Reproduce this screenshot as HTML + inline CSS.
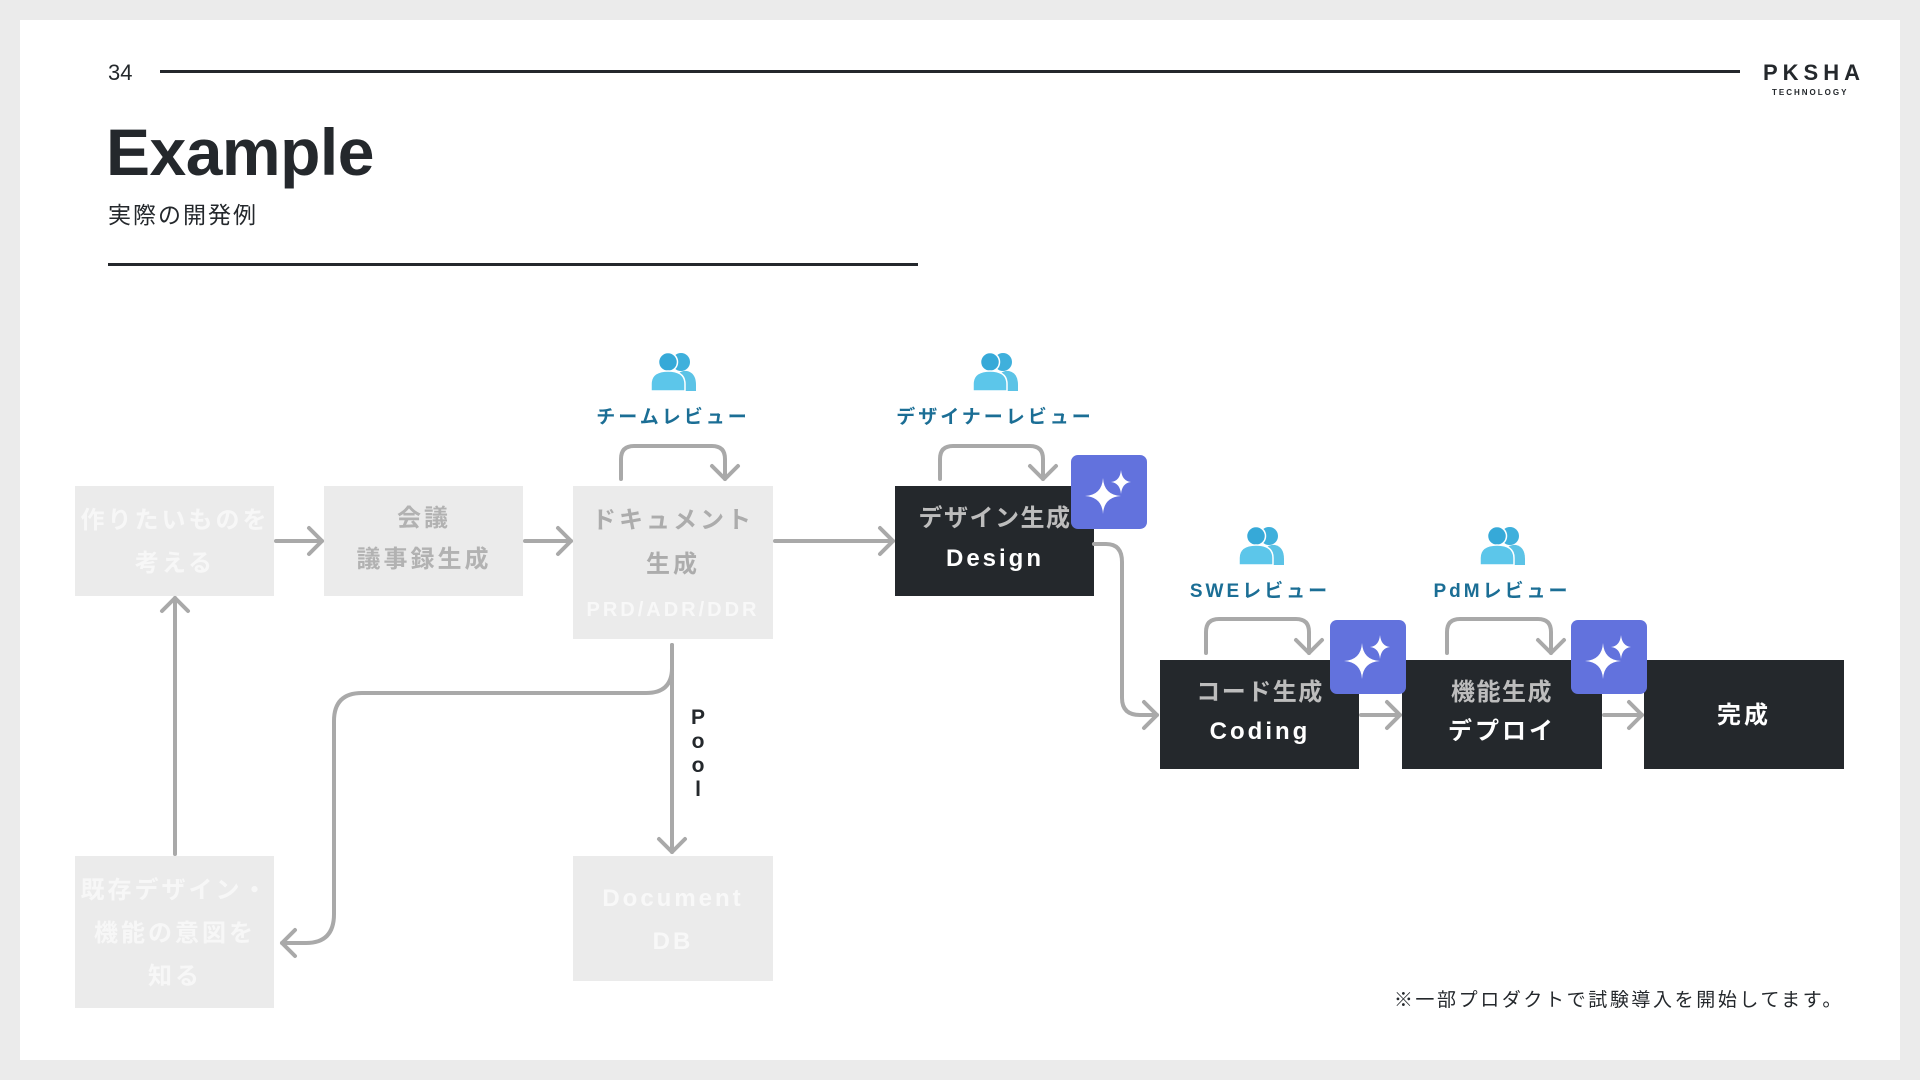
<!DOCTYPE html>
<html><head><meta charset="utf-8"><style>
html,body{margin:0;padding:0;background:#ebebeb;}
svg{display:block}
text{font-family:"Liberation Sans","Noto Sans CJK JP",sans-serif;}
</style></head><body>
<svg width="1920" height="1080" viewBox="0 0 1920 1080" xmlns="http://www.w3.org/2000/svg">
<defs>
<g id="ppl">
  <circle cx="8" cy="-9" r="9" fill="#3fb0dc"/>
  <path d="M3,20 V12 Q3,-1 14,0 Q23,2 23,14 V20 Z" fill="#5cc3e6"/>
  <circle cx="-5" cy="-9" r="9.5" fill="#36a9d8" stroke="#fff" stroke-width="1.5"/>
  <path d="M-22,20 V13 Q-22,0 -5,0 Q12,0 12,13 V20 Z" fill="#5cc6ea" stroke="#fff" stroke-width="1.5"/>
</g>
<g id="spark">
  <rect x="-38" y="-37" width="76" height="74" rx="7" fill="#6272dd"/>
  <path d="M-6,-20 Q-5,-3 12,-2 Q-5,-1 -6,16 Q-7,-1 -24,-2 Q-7,-3 -6,-20 Z" fill="#fff" transform="translate(0,6)"/>
  <path d="M10,-26 Q11,-15 20,-14 Q11,-13 10,-2 Q9,-13 0,-14 Q9,-15 10,-26 Z" fill="#fff" transform="translate(2,4)"/>
</g>
</defs>
<rect x="0" y="0" width="1920" height="1080" fill="#ebebeb"/>
<rect x="20" y="20" width="1880" height="1040" fill="#ffffff"/>

<!-- header -->
<text x="108" y="80" font-size="22" fill="#24282c">34</text>
<rect x="160" y="70" width="1580" height="3" fill="#24282c"/>
<text x="1763" y="80" font-size="22" font-weight="bold" fill="#24282c" letter-spacing="5">PKSHA</text>
<text x="1772" y="95" font-size="8" font-weight="bold" fill="#24282c" letter-spacing="2">TECHNOLOGY</text>
<text x="106" y="175" font-size="66" font-weight="bold" fill="#24282c" letter-spacing="-0.5">Example</text>
<text x="108" y="223" font-size="23" fill="#24282c" letter-spacing="2">実際の開発例</text>
<rect x="108" y="263" width="810" height="3" fill="#24282c"/>

<!-- boxes -->
<g font-weight="bold" font-size="24" text-anchor="middle" letter-spacing="3">
<rect x="75" y="486" width="199" height="110" fill="#ebebeb"/>
<text x="175" y="528" fill="#f7f7f7">作りたいものを</text>
<text x="175" y="571" fill="#f7f7f7">考える</text>

<rect x="324" y="486" width="199" height="110" fill="#ebebeb"/>
<text x="424" y="526" fill="#b2b2b2">会議</text>
<text x="424" y="567" fill="#b2b2b2">議事録生成</text>

<rect x="573" y="486" width="200" height="153" fill="#ebebeb"/>
<text x="673" y="528" fill="#acacac">ドキュメント</text>
<text x="673" y="572" fill="#acacac">生成</text>
<text x="673" y="616" fill="#f8f8f8" font-size="20">PRD/ADR/DDR</text>

<rect x="75" y="856" width="199" height="152" fill="#ebebeb"/>
<text x="175" y="898" fill="#f7f7f7">既存デザイン・</text>
<text x="175" y="941" fill="#f7f7f7">機能の意図を</text>
<text x="175" y="984" fill="#f7f7f7">知る</text>

<rect x="573" y="856" width="200" height="125" fill="#ebebeb"/>
<text x="673" y="906" fill="#f8f8f8">Document</text>
<text x="673" y="949" fill="#f8f8f8">DB</text>

<rect x="895" y="486" width="199" height="110" fill="#24282c"/>
<text x="995" y="526" fill="#bdbdbd" letter-spacing="1.5">デザイン生成</text>
<text x="995" y="566" fill="#ffffff">Design</text>

<rect x="1160" y="660" width="199" height="109" fill="#24282c"/>
<text x="1260" y="700" fill="#bdbdbd" letter-spacing="1.5">コード生成</text>
<text x="1260" y="739" fill="#ffffff">Coding</text>

<rect x="1402" y="660" width="200" height="109" fill="#24282c"/>
<text x="1502" y="700" fill="#bdbdbd" letter-spacing="1.5">機能生成</text>
<text x="1502" y="739" fill="#ffffff">デプロイ</text>

<rect x="1644" y="660" width="200" height="109" fill="#24282c"/>
<text x="1744" y="723" fill="#ffffff">完成</text>
</g>

<!-- connectors -->
<g fill="none" stroke="#a9a9a9" stroke-width="4" stroke-linecap="round" stroke-linejoin="round">
<path d="M276,541 H322"/><path d="M309,528 L322,541 L309,554"/>
<path d="M525,541 H571"/><path d="M558,528 L571,541 L558,554"/>
<path d="M775,541 H893"/><path d="M880,528 L893,541 L880,554"/>
<path d="M1094,544 H1106 Q1122,544 1122,562 V698 Q1122,715 1140,715 H1157"/><path d="M1144,702 L1157,715 L1144,728"/>
<path d="M1361,715 H1400"/><path d="M1387,702 L1400,715 L1387,728"/>
<path d="M1604,715 H1642"/><path d="M1629,702 L1642,715 L1629,728"/>
<path d="M672,645 V852"/><path d="M659,839 L672,852 L685,839"/>
<path d="M672,645 V668 Q672,693 646,693 H362 Q334,693 334,721 V914 Q334,943 306,943 H282"/><path d="M295,930 L282,943 L295,956"/>
<path d="M175,854 V598"/><path d="M162,611 L175,598 L188,611"/>
<path d="M621,479 V459 Q621,446 634,446 H712 Q725,446 725,459 V479"/><path d="M712,466 L725,479 L738,466"/>
<path d="M940,479 V459 Q940,446 953,446 H1030 Q1043,446 1043,459 V479"/><path d="M1030,466 L1043,479 L1056,466"/>
<path d="M1206,653 V632 Q1206,619 1219,619 H1296 Q1309,619 1309,632 V653"/><path d="M1296,640 L1309,653 L1322,640"/>
<path d="M1447,653 V632 Q1447,619 1460,619 H1538 Q1551,619 1551,632 V653"/><path d="M1538,640 L1551,653 L1564,640"/>
</g>

<!-- Pool label -->
<g font-weight="bold" font-size="21" fill="#24282c" text-anchor="middle">
<text x="698" y="724">P</text>
<text x="698" y="748">o</text>
<text x="698" y="772">o</text>
<text x="698" y="796">l</text>
</g>

<!-- sparkle badges -->
<use href="#spark" transform="translate(1109,492)"/>
<use href="#spark" transform="translate(1368,657)"/>
<use href="#spark" transform="translate(1609,657)"/>

<!-- people icons & labels -->
<use href="#ppl" transform="translate(673,371)"/>
<use href="#ppl" transform="translate(995,371)"/>
<use href="#ppl" transform="translate(1261,545)"/>
<use href="#ppl" transform="translate(1502,545)"/>
<g font-weight="bold" font-size="19" fill="#1b6e95" text-anchor="middle" letter-spacing="3">
<text x="673" y="423">チームレビュー</text>
<text x="995" y="423">デザイナーレビュー</text>
<text x="1260" y="597">SWEレビュー</text>
<text x="1502" y="597">PdMレビュー</text>
</g>

<text x="1844" y="1006" font-size="19" fill="#24282c" text-anchor="end" letter-spacing="2.6">※一部プロダクトで試験導入を開始してます。</text>
</svg>
</body></html>
